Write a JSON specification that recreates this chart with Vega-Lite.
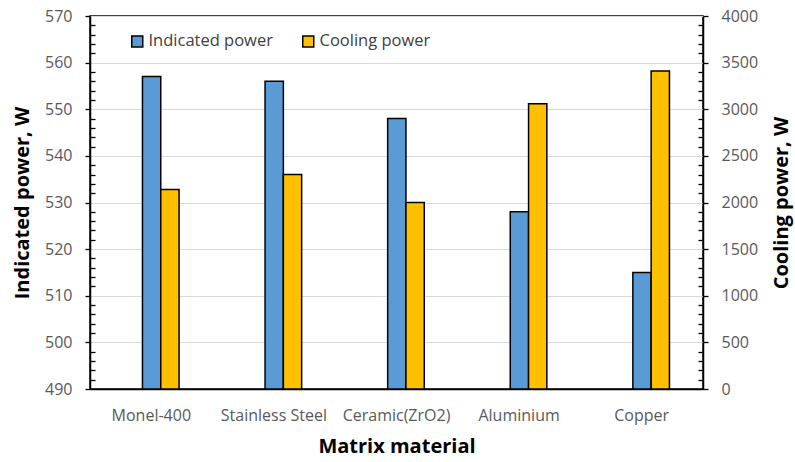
{
  "$schema": "https://vega.github.io/schema/vega-lite/v6.json",
  "width": 613,
  "height": 373,
  "autosize": {"type": "none"},
  "padding": {"left": 90, "top": 16, "right": 92, "bottom": 73},
  "background": "white",
  "config": {
    "font": "Open Sans",
    "view": {"stroke": "black", "strokeWidth": 1.5},
    "axis": {
      "labelFont": "Open Sans",
      "titleFont": "Open Sans",
      "labelColor": "#595959",
      "titleColor": "black",
      "titleFontWeight": "bold",
      "domainColor": "black",
      "domainWidth": 1.5,
      "tickColor": "black",
      "tickWidth": 1.3
    }
  },
  "data": {
    "values": [
      {"material": "Monel-400", "indicated": 557, "cooling": 2140},
      {"material": "Stainless Steel", "indicated": 556, "cooling": 2300},
      {"material": "Ceramic(ZrO2)", "indicated": 548, "cooling": 2000},
      {"material": "Aluminium", "indicated": 528, "cooling": 3060},
      {"material": "Copper", "indicated": 515, "cooling": 3410}
    ]
  },
  "encoding": {
    "x": {
      "field": "material",
      "type": "nominal",
      "sort": null,
      "scale": {"paddingInner": 0, "paddingOuter": 0},
      "axis": {
        "orient": "bottom",
        "labelAngle": 0,
        "labelFontSize": 16,
        "labelPadding": 18,
        "ticks": false,
        "tickSize": 0,
        "title": "Matrix material",
        "titleFontSize": 20,
        "titlePadding": 13
      }
    }
  },
  "layer": [
    {
      "mark": {"type": "bar", "stroke": "black", "strokeWidth": 1.5},
      "encoding": {
        "y": {
          "field": "indicated",
          "type": "quantitative",
          "scale": {"domain": [490, 570], "nice": false, "zero": false},
          "axis": {
            "orient": "left",
            "values": [490, 492, 494, 496, 498, 500, 502, 504, 506, 508, 510, 512, 514, 516, 518, 520, 522, 524, 526, 528, 530, 532, 534, 536, 538, 540, 542, 544, 546, 548, 550, 552, 554, 556, 558, 560, 562, 564, 566, 568, 570],
            "labelExpr": "datum.value % 10 === 0 ? datum.label : ''",
            "ticks": true,
            "tickSize": {"condition": {"test": "datum.value % 10 === 0", "value": 5}, "value": -5},
            "labelFontSize": 16,
            "labelPadding": 13,
            "grid": true,
            "gridColor": "#d9d9d9",
            "gridWidth": 1.2,
            "gridOpacity": {"condition": {"test": "datum.value % 10 === 0", "value": 1}, "value": 0},
            "title": "Indicated power, W",
            "titleFontSize": 20,
            "titlePadding": 12
          }
        },
        "y2": {"datum": 490},
        "xOffset": {
          "datum": "Indicated power",
          "scale": {
            "domain": ["gap1", "gap2", "Indicated power", "Cooling power", "gap3"],
            "paddingInner": 0,
            "paddingOuter": 0.85,
            "align": 0.51
          }
        },
        "color": {
          "datum": "Indicated power",
          "scale": {
            "domain": ["Indicated power", "Cooling power"],
            "range": ["#5b9bd5", "#ffc000"]
          },
          "legend": {
            "orient": "none",
            "legendX": 39,
            "legendY": 17,
            "direction": "horizontal",
            "title": null,
            "symbolType": "square",
            "symbolSize": 121,
            "symbolStrokeColor": "black",
            "symbolStrokeWidth": 1.5,
            "labelFont": "Open Sans",
            "labelFontSize": 16.5,
            "labelColor": "#404040",
            "labelOffset": 3,
            "columnPadding": 26
          }
        }
      }
    },
    {
      "mark": {"type": "bar", "stroke": "black", "strokeWidth": 1.5},
      "encoding": {
        "y": {
          "field": "cooling",
          "type": "quantitative",
          "scale": {"domain": [0, 4000], "nice": false},
          "axis": {
            "orient": "right",
            "values": [0, 100, 200, 300, 400, 500, 600, 700, 800, 900, 1000, 1100, 1200, 1300, 1400, 1500, 1600, 1700, 1800, 1900, 2000, 2100, 2200, 2300, 2400, 2500, 2600, 2700, 2800, 2900, 3000, 3100, 3200, 3300, 3400, 3500, 3600, 3700, 3800, 3900, 4000],
            "format": "d",
            "labelExpr": "datum.value % 500 === 0 ? datum.label : ''",
            "ticks": true,
            "tickSize": {"condition": {"test": "datum.value % 500 === 0", "value": 5}, "value": -5},
            "labelFontSize": 16,
            "labelPadding": 13,
            "grid": false,
            "title": "Cooling power, W",
            "titleFontSize": 20,
            "titleAngle": 270,
            "titleBaseline": "top",
            "titlePadding": 14
          }
        },
        "xOffset": {"datum": "Cooling power"},
        "color": {"datum": "Cooling power"}
      }
    }
  ],
  "resolve": {"scale": {"y": "independent"}}
}
